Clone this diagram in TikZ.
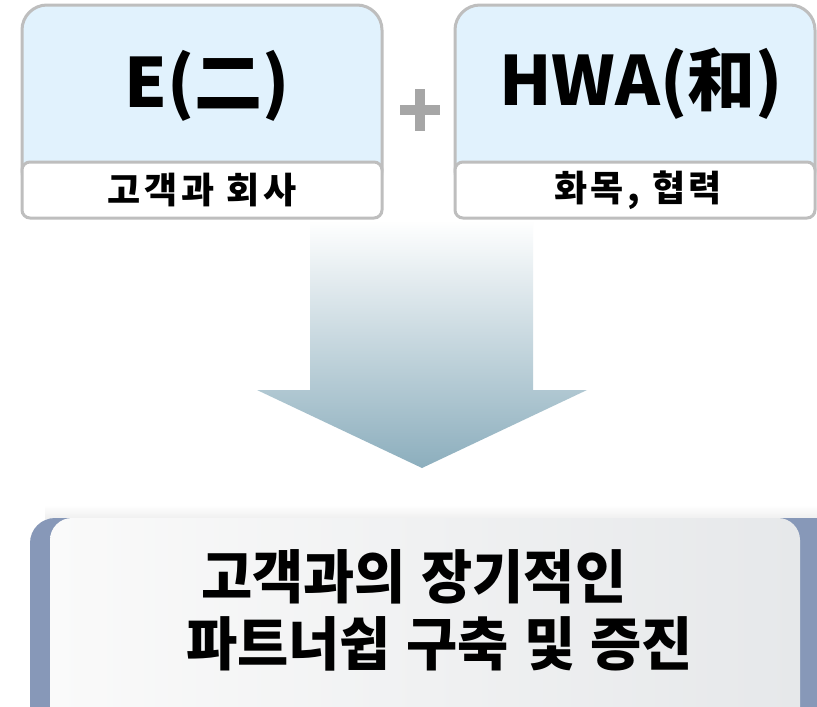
\documentclass[tikz,border=0pt]{standalone}
\usepackage{fontspec}
\setmainfont{Noto Sans CJK KR}
\newfontfamily\krsub{Noto Sans CJK KR}[LetterSpace=10]
\newfontfamily\krbig{Noto Sans CJK KR}[FakeStretch=0.96,WordSpace=1.2]
\definecolor{boxblue}{RGB}{225,242,253}
\definecolor{boxgray}{RGB}{190,190,190}
\definecolor{plusgray}{RGB}{166,166,166}
\definecolor{arrowbot}{RGB}{140,174,189}
\definecolor{arrowmid}{RGB}{214,233,237}
\definecolor{backblue}{RGB}{135,152,184}
\definecolor{innerL}{RGB}{250,250,250}
\definecolor{innerR}{RGB}{230,232,234}
\tikzset{
  topbox/.style={fill=boxblue,draw=boxgray,line width=3pt,rounded corners=25pt},
  labbox/.style={fill=white,draw=boxgray,line width=3pt,rounded corners=8pt},
  titletxt/.style={inner sep=0pt,font=\fontsize{68}{80}\selectfont\bfseries},
  subtxt/.style={inner sep=0pt,font=\fontsize{36}{40}\krsub\bfseries},
  bigtxt/.style={inner sep=0pt,anchor=west,font=\fontsize{58}{66}\krbig\bfseries},
}
\begin{document}
\begin{tikzpicture}[x=1pt,y=-1pt]
\useasboundingbox (0,0) rectangle (817,707);
\clip (0,0) rectangle (817,707);
\fill[white] (0,0) rectangle (817,707);
% top boxes
\draw[topbox] (22,5) rectangle (382,195);
\draw[labbox] (22,162) rectangle (382,218);
\draw[topbox] (455,5) rectangle (815,195);
\draw[labbox] (455,162) rectangle (815,218);
\node[titletxt] (e) at (207,86) {E(二)};
\node[titletxt] (hwa) at (641,84) {HWA(和)};
\node[subtxt] (esub) at (202,190) {고객과 회사};
\node[subtxt] (hsub) at (638,190) {화목, 협력};
% plus sign
\fill[plusgray] (400,105) rectangle (440,115);
\fill[plusgray] (415,89) rectangle (425,131);
% arrow
\coordinate (atop) at (421,220);
\coordinate (atip) at (422,468);
\shade[top color=white,middle color=arrowmid,bottom color=arrowbot]
  (310,220) -- (533,220) -- (533,390) -- (587,390) -- (atip) -- (257,390) -- (310,390) -- cycle;
% bottom box
\shade[top color=white,bottom color=black!6] (45,505) rectangle (817,518);
\fill[backblue,rounded corners=25pt] (30,518) rectangle (845,745);
\shade[left color=innerL,right color=innerR,rounded corners=22pt] (50,518) rectangle (800,745);
\node[bigtxt] (l1) at (201,577) {고객과의 장기적인};
\node[bigtxt] (l2) at (186,644) {파트너쉽 구축 및 증진};
\end{tikzpicture}
\end{document}
